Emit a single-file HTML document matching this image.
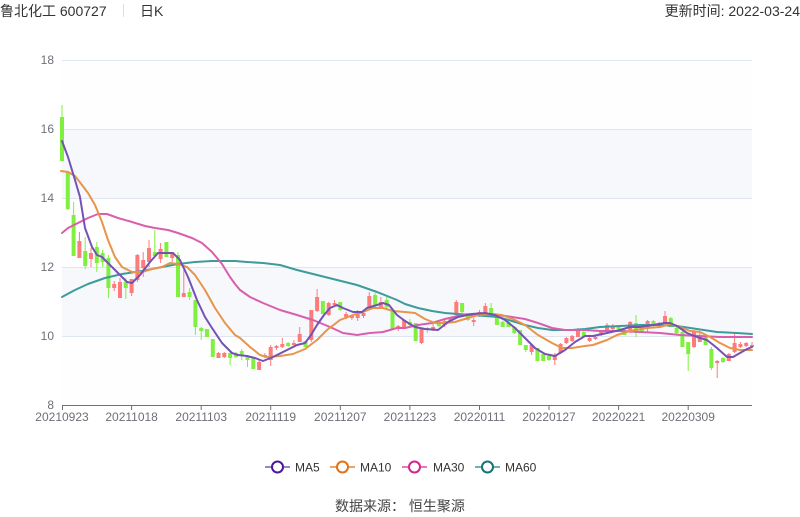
<!DOCTYPE html>
<html>
<head>
<meta charset="utf-8">
<style>
html,body{margin:0;padding:0;background:#fff;}
svg{display:block;}
text{font-family:"Liberation Sans","Noto Sans CJK SC",sans-serif;}
</style>
</head>
<body>
<svg width="800" height="517" viewBox="0 0 800 517" xmlns="http://www.w3.org/2000/svg">
<rect x="0" y="0" width="800" height="517" fill="#fff"/>
<text x="0" y="16" font-size="14" fill="#333">鲁北化工 600727</text>
<rect x="123" y="4" width="1" height="13" fill="#ddd"/>
<text x="140" y="16" font-size="14" fill="#333">日K</text>
<text x="800" y="16" font-size="14" fill="#333" text-anchor="end">更新时间: 2022-03-24</text>

<rect x="62" y="60" width="690" height="69" fill="#fefefe"/>
<rect x="62" y="129" width="690" height="69" fill="#f6f8fc"/>
<rect x="62" y="198" width="690" height="69" fill="#fefefe"/>
<rect x="62" y="267" width="690" height="69" fill="#f6f8fc"/>
<rect x="62" y="336" width="690" height="69" fill="#fefefe"/>
<path d="M62 60.5H752M62 129.5H752M62 198.5H752M62 267.5H752M62 336.5H752" stroke="#e0e6f1" stroke-width="1" fill="none"/>
<g font-size="12" fill="#6e7079" text-anchor="end">
<text x="54" y="64">18</text>
<text x="54" y="133">16</text>
<text x="54" y="202">14</text>
<text x="54" y="271">12</text>
<text x="54" y="340">10</text>
<text x="54" y="409">8</text>
</g>

<g fill="none" stroke="#ff7a7a">
<path stroke-width="1" d="M79.4 232V258M91 248V267M114.2 281V291M120 278V298M131.6 279V296M137.4 254V282M143.2 252V277M149 240V267M160.6 243V263M172.2 252V262M183.8 270V297M218.5 352V358M224.3 352V358M259.1 360V370M264.9 353V358M270.7 345V366M276.5 345V350M282.3 338V348M293.9 340V346M299.7 327V342M311.3 310V342M317.1 289V312M328.7 302V316M334.5 300V307M346.1 312V319M351.9 315V320M357.7 310V321M363.5 310V318M369.3 292V310M380.9 297V308M398.3 325V331M404.1 319V328M421.5 328V344M433.1 322V331M444.7 320V327M450.5 317V323M456.3 300V317M473.7 318V326M479.5 310V317M485.3 303V315M531.6 345V355M554.8 353V365M560.6 343V354M566.4 337V344M572.2 335V342M578 328V337M589.6 337V342M595.4 335V340M601.2 331V336M607 323V333M612.8 324V331M630.2 321V333M647.6 320V333M659.2 322V327M665 311V324M694 330V348M699.8 333V342M717.2 360V378M728.8 353V361M734.6 333V353M740.4 342V348M746.2 342V347M752 342V348"/>
<path stroke-width="4" d="M79.4 241V258M91 253V259M114.2 284V288M120 282V298M131.6 279V293M137.4 255V280M143.2 260V268M149 248V262M160.6 249V259M172.2 254V258M183.8 293V297M218.5 353V358M224.3 353V357M259.1 362V370M264.9 355V357M270.7 347V360M276.5 346V348M282.3 344V347M293.9 343V345M299.7 334V342M311.3 310V340M317.1 297V311M328.7 303V315M334.5 303V305M346.1 314V317M351.9 316V318M357.7 311V318M363.5 313V316M369.3 296V308M380.9 302V307M398.3 326V328M404.1 320V327M421.5 328V343M433.1 327V330M444.7 321V325M450.5 318V322M456.3 302V315M473.7 320V322M479.5 312V314M485.3 306V313M531.6 345V352M554.8 355V360M560.6 344V353M566.4 338V343M572.2 336V341M578 330V337M589.6 338V341M595.4 337V339M601.2 332V335M607 325V332M612.8 327V329M630.2 322V332M647.6 321V328M659.2 323V326M665 316V323M694 331V347M699.8 335V342M717.2 361V363M728.8 354V361M734.6 343V352M740.4 344V347M746.2 343V346M752 345V347"/>
</g>
<g fill="none" stroke="#80f040">
<path stroke-width="1" d="M62 105V161M67.8 171V210M73.6 202V256M85.2 237V269M96.8 242V272M102.6 250V267M108.4 255V298M125.8 278V299M154.8 230V257M166.4 242V257M178 252V297M189.6 288V300M195.4 300V335M201.2 327V340M207 329V337M212.8 339V357M230.1 352V365M235.9 352V358M241.7 349V360M247.5 355V367M253.3 358V369M288.1 342V347M305.5 341V347M322.9 301V314M340.3 302V311M375.1 293V307M386.7 297V310M392.5 310V329M409.9 319V327M415.7 323V341M427.3 327V333M438.9 322V327M462.1 303V313M467.9 313V321M491.1 303V315M496.9 316V325M502.7 321V327M508.5 321V327M514.3 326V334M520.1 330V345M525.8 345V352M537.4 348V361M543.2 354V361M549 355V361M583.8 331V337M618.6 326V330M624.4 329V335M636 315V337M641.8 327V333M653.4 320V327M670.8 317V327M676.6 327V334M682.4 331V347M688.2 342V371M705.6 336V345M711.4 347V370M723 357V363"/>
<path stroke-width="4" d="M62 117V161M67.8 172V209M73.6 215V256M85.2 251V266M96.8 247V263M102.6 253V262M108.4 258V288M125.8 282V288M154.8 252V256M166.4 242V257M178 255V297M189.6 292V297M195.4 300V327M201.2 328V331M207 329V337M212.8 339V357M230.1 353V358M235.9 353V357M241.7 351V356M247.5 357V360M253.3 358V369M288.1 343V346M305.5 341V347M322.9 301V314M340.3 302V310M375.1 295V305M386.7 300V307M392.5 310V329M409.9 322V325M415.7 323V341M427.3 328V330M438.9 323V326M462.1 303V312M467.9 313V320M491.1 308V313M496.9 317V325M502.7 322V327M508.5 322V327M514.3 327V333M520.1 330V345M525.8 345V350M537.4 348V361M543.2 354V361M549 356V360M583.8 332V337M618.6 327V329M624.4 330V335M636 323V333M641.8 328V332M653.4 321V326M670.8 318V327M676.6 328V333M682.4 332V347M688.2 342V354M705.6 337V345M711.4 349V368M723 358V362"/>
</g>

<g fill="none" stroke-width="2" stroke-linejoin="round" stroke-linecap="round">
<polyline stroke="#3d9b9b" points="62,297 75,290 88,284 105,278 122,274 142,271 162,267 178,264 195,262 212,261 235,261 247,262 263,263 280,265 297,270 317,275 337,280 357,285 377,292 397,300 405,304 418,308 432,311 445,313 458,314 472,315 485,316 498,317 512,321 525,325 538,328 552,330 572,330 585,329 600,327 620,326 640,325 660,325 677,326 697,329 717,332 737,333 752,334"/>
<polyline stroke="#d95fad" points="62,233 68,228 78,223 88,218 98,214 107,214 118,218 132,222 145,226 155,228 168,230 178,233 192,238 202,243 212,252 222,264 230,277 235,284 240,290 250,297 263,303 280,310 297,315 313,320 330,327 343,333 357,335 370,333 383,332 397,328 405,328 418,325 432,323 445,319 458,316 472,314 485,314 498,315 512,317 525,319 538,323 552,328 565,330 585,330 600,331 620,331 640,332 660,333 680,335 700,336 720,337 752,337"/>
<polyline stroke="#e8944a" points="61,171 68,172 75,176 82,185 88,193 95,205 102,222 108,240 115,257 122,267 132,272 142,272 152,269 162,267 170,263 178,264 187,267 195,275 205,290 215,308 225,323 235,335 240,338 250,347 260,355 267,357 280,356 293,354 305,349 317,340 327,330 340,320 353,315 363,312 373,308 383,308 393,311 405,312 415,313 425,319 435,323 445,323 455,322 468,318 478,315 492,314 502,315 515,320 525,325 538,335 552,343 562,348 572,348 585,346 593,345 607,340 617,335 630,331 647,328 660,327 670,324 680,327 690,331 700,332 710,337 720,343 730,348 740,350 752,350"/>
<polyline stroke="#7452b3" points="62,141 68,157 75,180 80,197 85,228 92,247 97,255 102,257 108,263 117,272 127,282 132,283 140,275 150,262 158,253 173,253 180,260 188,277 197,300 205,317 212,328 222,343 232,353 238,355 247,356 255,358 263,361 273,357 285,351 297,345 305,343 311,335 317,325 324,315 330,308 337,305 343,308 353,312 362,312 367,308 377,305 383,303 389,305 397,315 405,321 415,327 425,329 438,330 448,322 458,317 472,314 485,313 495,315 505,320 515,328 525,338 535,348 545,354 555,356 565,350 575,342 585,336 593,336 607,333 620,330 630,327 640,327 653,325 665,323 670,323 677,326 687,333 697,337 707,340 717,348 727,357 733,357 740,353 747,349 752,347"/>
</g>

<path d="M62 405.5H752M62.5 405V410M131.6 405V410M201.2 405V410M270.7 405V410M340.3 405V410M409.9 405V410M479.5 405V410M549 405V410M618.6 405V410M688.2 405V410" stroke="#6e7079" stroke-width="1" fill="none"/>
<g font-size="12" fill="#6e7079" text-anchor="middle">
<text x="62" y="421">20210923</text>
<text x="131.6" y="421">20211018</text>
<text x="201.2" y="421">20211103</text>
<text x="270.7" y="421">20211119</text>
<text x="340.3" y="421">20211207</text>
<text x="409.9" y="421">20211223</text>
<text x="479.5" y="421">20220111</text>
<text x="549" y="421">20220127</text>
<text x="618.6" y="421">20220221</text>
<text x="688.2" y="421">20220309</text>
</g>

<g stroke-width="2">
<line x1="265" y1="467" x2="290" y2="467" stroke="#9b86c8"/>
<circle cx="277.5" cy="467" r="5.5" fill="#fff" stroke="#4a1a9c"/>
<line x1="330" y1="467" x2="355" y2="467" stroke="#eba36a"/>
<circle cx="342.5" cy="467" r="5.5" fill="#fff" stroke="#e07316"/>
<line x1="402" y1="467" x2="427" y2="467" stroke="#e07ab8"/>
<circle cx="414.5" cy="467" r="5.5" fill="#fff" stroke="#d2258f"/>
<line x1="475" y1="467" x2="500" y2="467" stroke="#6fb0b0"/>
<circle cx="487.5" cy="467" r="5.5" fill="#fff" stroke="#157474"/>
</g>
<g font-size="12" fill="#333">
<text x="295" y="471.5">MA5</text>
<text x="360" y="471.5">MA10</text>
<text x="433" y="471.5">MA30</text>
<text x="505" y="471.5">MA60</text>
</g>

<text x="400" y="511" font-size="14" fill="#444" text-anchor="middle">数据来源： 恒生聚源</text>
</svg>
</body>
</html>
